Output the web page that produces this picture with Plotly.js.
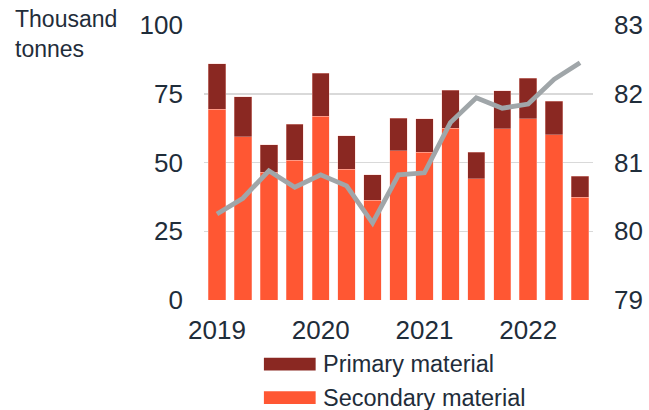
<!DOCTYPE html>
<html>
<head>
<meta charset="utf-8">
<script src="https://cdn.plot.ly/plotly-3.0.1.min.js"></script>
<style>html,body{margin:0;padding:0;background:#fff;}#chart{width:649px;height:410px;}</style>
</head>
<body>
<div id="chart"></div>
<script>
const quarters = ['2019Q1','2019Q2','2019Q3','2019Q4','2020Q1','2020Q2','2020Q3','2020Q4','2021Q1','2021Q2','2021Q3','2021Q4','2022Q1','2022Q2','2022Q3'];
const secondary = [69.4, 59.3, 46.5, 50.9, 66.9, 47.5, 36.3, 54.2, 53.7, 62.5, 44.1, 62.2, 65.9, 60.1, 37.4];
const primary = [16.6, 14.7, 9.9, 13.0, 15.6, 12.2, 9.3, 11.9, 12.2, 13.8, 9.6, 13.9, 14.8, 12.1, 7.6];
const lineValues = [80.25, 80.48, 80.88, 80.64, 80.82, 80.66, 80.12, 80.82, 80.85, 81.58, 81.94, 81.79, 81.85, 82.21, 82.45];
const yearTickVals = ['2019Q1','2020Q1','2021Q1','2022Q1'];
const yearTickText = ['2019','2020','2021','2022'];
const leftTicks = [0, 25, 50, 75, 100];
const rightTicks = [79, 80, 81, 82, 83];

const textColor = '#1f2d3a';
const font = 'Liberation Sans, Arial, sans-serif';

const traces = [
  {type:'bar', x:quarters, y:secondary, name:'Secondary material', marker:{color:'#FF5733', line:{color:'rgba(255,200,190,0.6)', width:0.6}}, hoverinfo:'y'},
  {type:'bar', x:quarters, y:primary, name:'Primary material', marker:{color:'#8A2822', line:{color:'rgba(255,200,190,0.6)', width:0.6}}, hoverinfo:'y'},
  {type:'scatter', mode:'lines', x:quarters, y:lineValues, yaxis:'y2', name:'Index', line:{color:'#A0A6A9', width:4.8}, hoverinfo:'y'}
];

const layout = {
  width:649, height:410,
  margin:{l:204, r:56, t:25, b:110, pad:0},
  paper_bgcolor:'#fff', plot_bgcolor:'#fff',
  barmode:'stack', bargap:0.33,
  showlegend:false,
  font:{family:font, color:textColor, size:24},
  xaxis:{type:'category', tickvals:yearTickVals, ticktext:yearTickText, showgrid:false, ticks:'', ticklabelstandoff:12, tickfont:{size:26, color:textColor}, showline:false, zeroline:false},
  yaxis:{range:[0,100], tickvals:leftTicks, showgrid:true, gridcolor:'#d9d9d9', gridwidth:1.5, zeroline:false, ticks:'', ticklabelstandoff:20, tickfont:{size:26, color:textColor}},
  yaxis2:{range:[79,83], tickvals:rightTicks, overlaying:'y', side:'right', showgrid:false, zeroline:false, ticks:'', ticklabelstandoff:20, tickfont:{size:26, color:textColor}},
  shapes:[
    {type:'rect', xref:'paper', yref:'paper', x0:0.154, x1:0.287, y0:-0.256, y1:-0.210, fillcolor:'#8A2822', line:{width:0}},
    {type:'rect', xref:'paper', yref:'paper', x0:0.154, x1:0.287, y0:-0.378, y1:-0.332, fillcolor:'#FF5733', line:{width:0}}
  ],
  annotations:[
    {text:'Thousand<br>tonnes', xref:'paper', yref:'paper', x:-0.492, y:1.075, xanchor:'left', yanchor:'top', align:'left', showarrow:false, font:{size:23, color:textColor}},
    {text:'Primary material', xref:'paper', yref:'paper', x:0.302, y:-0.2325, xanchor:'left', yanchor:'middle', showarrow:false, font:{size:23.5, color:textColor}},
    {text:'Secondary material', xref:'paper', yref:'paper', x:0.302, y:-0.3546, xanchor:'left', yanchor:'middle', showarrow:false, font:{size:23.5, color:textColor}}
  ]
};

Plotly.newPlot('chart', traces, layout, {displayModeBar:false, staticPlot:true});
</script>
</body>
</html>
